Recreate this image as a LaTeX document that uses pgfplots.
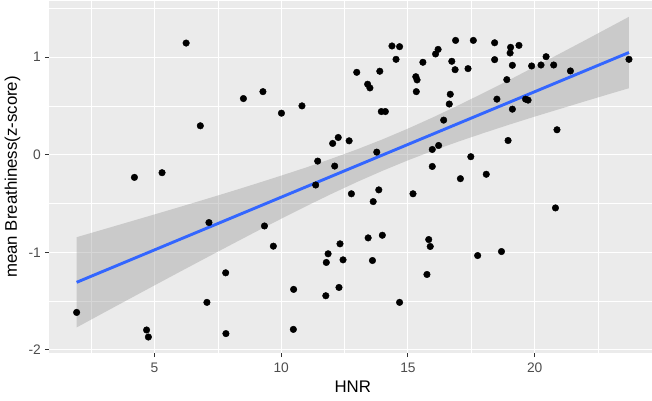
\documentclass[border=0pt]{standalone}
\usepackage{fontspec}
\setmainfont{Liberation Sans}
\usepackage{pgfplots}
\usepackage{pgfplotstable}
\pgfplotsset{compat=1.18}
\definecolor{panelbg}{HTML}{EBEBEB}
\definecolor{tickgrey}{HTML}{333333}
\definecolor{labgrey}{HTML}{4D4D4D}
\definecolor{smoothblue}{HTML}{3366FF}
\definecolor{ribbongrey}{HTML}{999999}

\pgfplotstableread{
x y
1.93 -1.616
4.21 -0.232
4.69 -1.796
4.76 -1.868
5.30 -0.184
6.25 1.145
6.81 0.297
7.07 -1.513
7.15 -0.695
7.81 -1.21
7.82 -1.833
8.51 0.576
9.28 0.647
9.34 -0.73
9.69 -0.937
10.01 0.426
10.48 -1.79
10.49 -1.38
10.82 0.501
11.36 -0.31
11.44 -0.065
11.76 -1.445
11.78 -1.104
11.85 -1.015
12.03 0.116
12.11 -0.116
12.25 0.177
12.28 -1.36
12.32 -0.913
12.44 -1.077
12.68 0.143
12.77 -0.40
12.98 0.845
13.41 0.723
13.43 -0.852
13.50 0.685
13.60 -1.084
13.63 -0.48
13.77 0.027
13.85 -0.36
13.89 0.856
13.95 0.443
13.99 -0.825
14.11 0.443
14.37 1.115
14.53 0.978
14.67 1.108
14.67 -1.513
15.20 -0.40
15.31 0.80
15.33 0.647
15.36 0.767
15.59 0.948
15.75 -1.227
15.82 -0.869
15.88 -0.94
15.96 0.054
15.96 -0.12
16.09 1.033
16.19 1.08
16.21 0.095
16.41 0.355
16.63 0.52
16.67 0.62
16.73 0.958
16.86 0.872
16.88 1.172
17.07 -0.245
17.37 0.883
17.48 -0.02
17.58 1.172
17.75 -1.033
18.09 -0.20
18.42 1.148
18.42 0.975
18.51 0.57
18.69 -0.992
18.90 0.77
18.95 0.146
19.03 1.043
19.05 1.101
19.12 0.917
19.12 0.467
19.38 1.121
19.64 0.57
19.74 0.56
19.88 0.91
20.25 0.92
20.45 1.005
20.75 0.92
20.82 -0.545
20.88 0.256
21.41 0.859
23.72 0.978
}\points

\pgfplotstableread{
x y
1.93 -0.845
3 -0.764
4 -0.688
5 -0.612
6 -0.535
7 -0.457
8 -0.378
9 -0.297
10 -0.214
11 -0.129
12 -0.039
13 0.056
14 0.158
15 0.268
16 0.385
17 0.508
18 0.636
19 0.767
20 0.902
21 1.038
22 1.175
23 1.314
23.72 1.414
23.72 0.682
23 0.627
22 0.549
21 0.470
20 0.391
19 0.309
18 0.224
17 0.136
16 0.043
15 -0.057
14 -0.164
13 -0.278
12 -0.399
11 -0.525
10 -0.656
9 -0.789
8 -0.925
7 -1.062
6 -1.200
5 -1.339
4 -1.479
3 -1.619
1.93 -1.770
}\ribbon

\begin{document}
\begin{tikzpicture}[x=1pt,y=1pt]
\useasboundingbox (0,0) rectangle (652,400);
\begin{axis}[
  at={(49pt,47pt)}, anchor=south west,
  scale only axis, width=607.6pt, height=352.2pt,
  xmin=0.84, xmax=24.81, ymin=-2.032, ymax=1.578,
  axis background/.style={fill=panelbg},
  axis line style={draw=none},
  xtick={5,10,15,20}, ytick={-2,-1,0,1},
  xticklabels={5,10,15,20}, yticklabels={-2,-1,0,1},
  minor xtick={2.5,7.5,12.5,17.5,22.5},
  minor ytick={-1.5,-0.5,0.5,1.5},
  grid=both,
  major grid style={white, line width=1.1pt},
  minor grid style={white, line width=0.55pt},
  tick align=outside, major tick length=4pt, minor tick length=0pt,
  xtick pos=bottom, ytick pos=left,
  tick style={tickgrey, line width=1.1pt},
  ticklabel style={font=\fontsize{13.8}{15}\selectfont, text=labgrey, inner sep=0pt},
  xticklabel style={yshift=-5.7pt},
  yticklabel style={xshift=-4pt},
  xlabel={HNR}, ylabel={mean Breathiness(z-score)},
  label style={font=\fontsize{16.8}{18}\selectfont, text=black},
  xlabel style={at={(axis description cs:0.5,0)}, anchor=center, yshift=-34pt},
  ylabel style={at={(axis description cs:0,0.5)}, anchor=center, yshift=36.5pt},
]
\addplot[only marks, mark=*, mark size=3.3pt, mark options={fill=black, draw=none}] table[x=x,y=y] {\points};
\addplot[fill=ribbongrey, fill opacity=0.4, draw=none] table[x=x,y=y] {\ribbon};
\addplot[smoothblue, line width=2.9pt] coordinates {(1.93,-1.3074) (23.72,1.0482)};
\end{axis}
\end{tikzpicture}
\end{document}
